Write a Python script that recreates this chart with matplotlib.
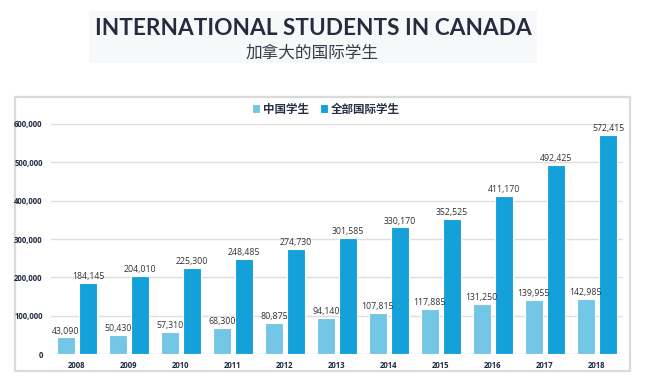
import matplotlib
matplotlib.use("Agg")
import matplotlib.pyplot as plt
from matplotlib.patches import Rectangle
from matplotlib.ticker import FuncFormatter
import numpy as np

years = ["2008", "2009", "2010", "2011", "2012", "2013", "2014", "2015", "2016", "2017", "2018"]
chinese_students = [43090, 50430, 57310, 68300, 80875, 94140, 107815, 117885, 131250, 139955, 142985]
all_students = [184145, 204010, 225300, 248485, 274730, 301585, 330170, 352525, 411170, 492425, 572415]
series_names = ["中国学生", "全部国际学生"]
title_en = "INTERNATIONAL STUDENTS IN CANADA"
title_zh = "加拿大的国际学生"

light = "#74c6e6"
dark = "#14a1da"
cjk = ["Noto Sans CJK SC", "DejaVu Sans"]

W, H = 653, 382
fig = plt.figure(figsize=(W / 100, H / 100), dpi=100)
fig.patch.set_facecolor("white")

def fx(px):
    return px / W

def fy(py):
    return 1 - py / H

# title banner
fig.patches.append(Rectangle((fx(89), fy(63)), fx(537) - fx(89), fy(11) - fy(63),
                             transform=fig.transFigure, facecolor="#f6f8fa", edgecolor="none", zorder=-2))
fig.text(fx(313), fy(28.5), title_en, ha="center", va="center", fontsize=16.3,
         fontweight="bold", family=["Lato", "DejaVu Sans"], color="#262b3d")
fig.text(fx(312), fy(53), title_zh, ha="center", va="center", fontsize=12,
         family=cjk, color="#3c3c44")

# chart panel
fig.patches.append(Rectangle((fx(15), fy(371)), fx(630) - fx(15), fy(97) - fy(371),
                             transform=fig.transFigure, facecolor="white", edgecolor="#dadada",
                             linewidth=1.6, zorder=-2))

ax = fig.add_axes([fx(51), fy(354), fx(623) - fx(51), fy(124) - fy(354)])
ax.set_zorder(1)
ax.set_facecolor("none")
x = np.arange(len(years))
bw = 0.34
off = 0.215
b1 = ax.bar(x - off, chinese_students, bw, color=light, edgecolor="white", linewidth=0.8,
            label=series_names[0], zorder=3)
b2 = ax.bar(x + off, all_students, bw, color=dark, edgecolor="white", linewidth=0.8,
            label=series_names[1], zorder=3)

for xi, v in zip(x, chinese_students):
    ax.text(xi - off, v + 5000, f"{v:,}", ha="center", va="bottom", fontsize=6.3,
            color="#333333", family=["Open Sans", "DejaVu Sans"], zorder=4)
for xi, v in zip(x, all_students):
    ax.text(xi + off, v + 5000, f"{v:,}", ha="center", va="bottom", fontsize=6.3,
            color="#333333", family=["Open Sans", "DejaVu Sans"], zorder=4)

ax.set_xlim(-0.5, len(years) - 0.5)
ax.set_ylim(0, 600000)
ax.set_yticks(np.arange(0, 600001, 100000))
ax.yaxis.set_major_formatter(FuncFormatter(lambda v, p: f"{int(v):,}"))
ax.set_xticks(x)
ax.set_xticklabels(years)
for lbl in ax.get_xticklabels() + ax.get_yticklabels():
    lbl.set_fontsize(5.6)
    lbl.set_fontweight("bold")
    lbl.set_color("#1f2940")
    lbl.set_family(["Open Sans", "DejaVu Sans"])
ax.tick_params(axis="both", length=0)
ax.tick_params(axis="y", pad=6)
ax.tick_params(axis="x", pad=5)
ax.grid(axis="y", color="#dedede", linewidth=1.0, zorder=0)
ax.set_axisbelow(True)
for s in ax.spines.values():
    s.set_visible(False)

leg = fig.legend(handles=[b1, b2], labels=series_names, loc="center",
                 bbox_to_anchor=(fx(326), fy(109)), ncol=2, frameon=False,
                 prop={"family": cjk, "size": 8.3, "weight": "bold"},
                 handlelength=0.7, handleheight=0.7, handletextpad=0.2, columnspacing=1.0)
for t in leg.get_texts():
    t.set_color("#2a2f45")

fig.savefig("out.png", dpi=100)
